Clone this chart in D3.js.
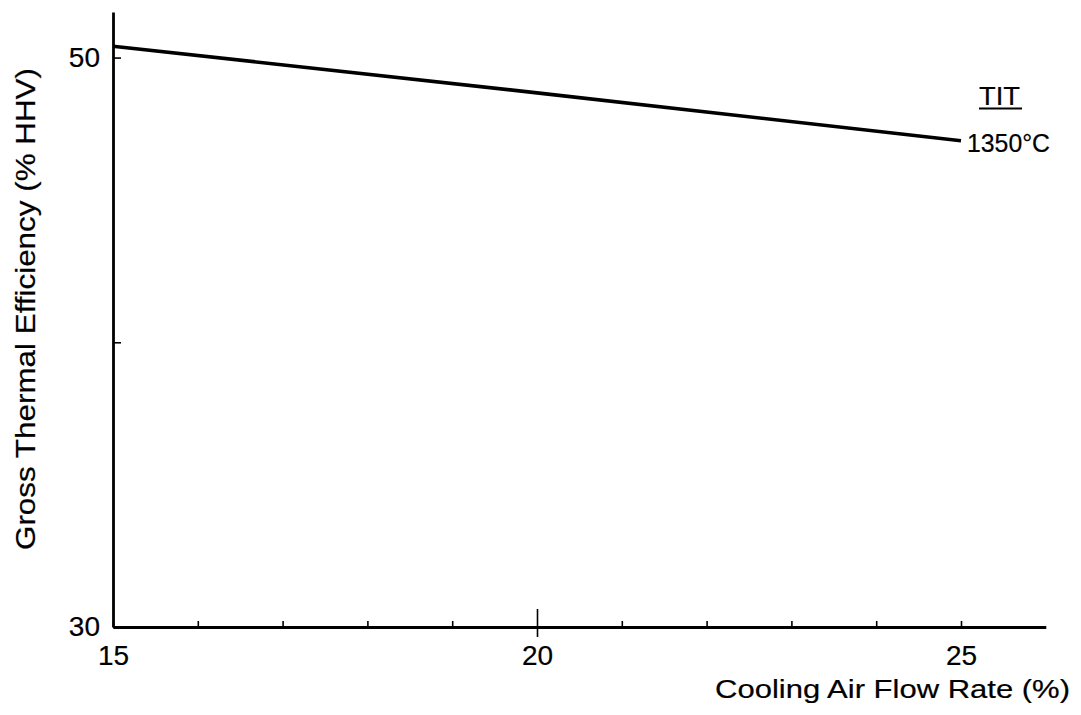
<script src="https://cdn.jsdelivr.net/npm/d3@7"></script>

<body style="margin: 0; background: white;">
<svg id="vis"></svg>
</body>

<script>

  /***** DATA *****/

  // Cooling air flow rate (%) and gross thermal efficiency (% HHV)
  var flowRates = [15, 20, 25]
  var efficiency = [50.40, 48.76, 47.08]
  var seriesLabel = '1350°C'
  var legendTitle = 'TIT'

  var xTicks = [15, 16, 17, 18, 19, 20, 21, 22, 23, 24, 25]
  var xTickLabels = [15, 20, 25]
  var yTicks = [30, 40, 50]
  var yTickLabels = [30, 50]

  var xTitle = 'Cooling Air Flow Rate (%)'
  var yTitle = 'Gross Thermal Efficiency (% HHV)'


  /***** SETUP *****/

  var width = 1081
  var height = 715
  var font = '"Liberation Sans", Arial, Helvetica, sans-serif'

  var svg = d3.select('#vis')
    .attr('width', width)
    .attr('height', height)
    .style('display', 'block')

  var x = d3.scaleLinear()
    .domain([15, 26])
    .range([113, 1045.8])

  var y = d3.scaleLinear()
    .domain([30, 51.6])
    .range([627, 12])

  // scanned text is only slightly heavier than a plain font
  function inkText(sel) {
    sel.style('font-family', font)
      .style('fill', '#000')
      .style('stroke', '#000')
      .style('stroke-width', 0.2)
  }


  /***** AXES *****/

  // x axis: small ticks pointing up into the plot
  var xAxis = svg.append('g')
    .attr('transform', 'translate(0,' + y(30) + ')')
    .call(d3.axisBottom(x)
      .tickValues(xTicks)
      .tickSizeInner(-6)
      .tickSizeOuter(0)
      .tickPadding(18)
      .tickFormat(function (d) { return xTickLabels.indexOf(d) >= 0 ? d : '' }))

  // the 20 tick crosses the axis
  xAxis.selectAll('.tick')
    .filter(function (d) { return d === 20 })
    .select('line')
    .attr('y1', 10)
    .attr('y2', -18)

  // y axis: ticks pointing right into the plot
  var yAxis = svg.append('g')
    .attr('transform', 'translate(' + x(15) + ',0)')
    .call(d3.axisLeft(y)
      .tickValues(yTicks)
      .tickSizeInner(-8)
      .tickSizeOuter(0)
      .tickPadding(13)
      .tickFormat(function (d) { return yTickLabels.indexOf(d) >= 0 ? d : '' }))

  svg.selectAll('.domain')
    .attr('stroke', '#000')
    .attr('stroke-width', 2.8)

  svg.selectAll('.tick line')
    .attr('stroke', '#000')
    .attr('stroke-width', 1.6)

  svg.selectAll('.tick text')
    .call(inkText)
    .style('font-size', '28px')

  // Axis titles
  svg.append('text')
    .text(xTitle)
    .attr('x', 1070)
    .attr('y', 698)
    .attr('text-anchor', 'end')
    .attr('textLength', 355)
    .attr('lengthAdjust', 'spacingAndGlyphs')
    .call(inkText)
    .style('font-size', '26px')

  svg.append('text')
    .text(yTitle)
    .attr('transform', 'translate(35,309) rotate(-90)')
    .attr('text-anchor', 'middle')
    .attr('textLength', 482)
    .attr('lengthAdjust', 'spacingAndGlyphs')
    .call(inkText)
    .style('font-size', '27px')


  /***** LINE *****/

  var pts = flowRates.map(function (d, i) { return [d, efficiency[i]] })

  var line = d3.line()
    .x(function (d) { return x(d[0]) })
    .y(function (d) { return y(d[1]) })

  svg.append('path')
    .datum(pts)
    .attr('d', line)
    .attr('fill', 'none')
    .attr('stroke', '#000')
    .attr('stroke-width', 3.6)

  // Line label
  var last = pts[pts.length - 1]
  svg.append('text')
    .text(seriesLabel)
    .attr('x', x(last[0]) + 6)
    .attr('y', y(last[1]) + 11)
    .attr('textLength', 83)
    .attr('lengthAdjust', 'spacingAndGlyphs')
    .call(inkText)
    .style('font-size', '25px')

  // Legend title, underlined
  svg.append('text')
    .text(legendTitle)
    .attr('x', 979)
    .attr('y', 105)
    .attr('textLength', 41)
    .attr('lengthAdjust', 'spacingAndGlyphs')
    .call(inkText)
    .style('font-size', '25px')

  svg.append('line')
    .attr('x1', 979)
    .attr('x2', 1022)
    .attr('y1', 108.5)
    .attr('y2', 108.5)
    .attr('stroke', '#000')
    .attr('stroke-width', 2.2)

</script>
